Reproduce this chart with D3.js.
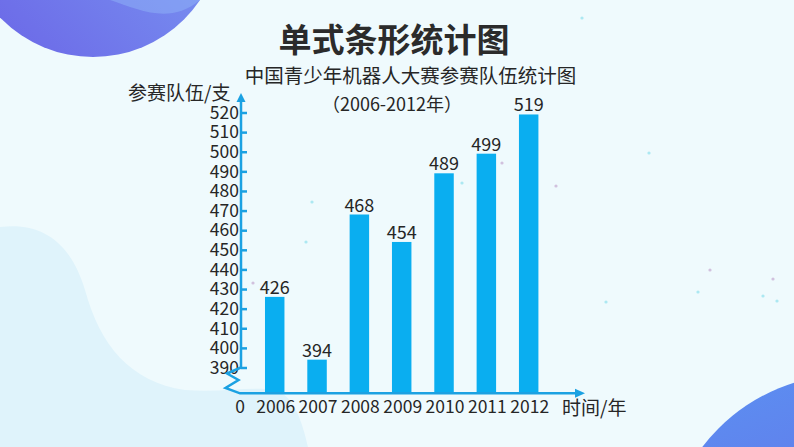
<!DOCTYPE html>
<html><head><meta charset="utf-8">
<script src="https://cdn.jsdelivr.net/npm/d3@7"></script>
<style>
html,body{margin:0;padding:0;background:#effafd;}
svg{display:block;}
text{font-family:"Noto Sans CJK SC","Noto Sans",sans-serif;fill:#262626;}
</style></head>
<body>
<svg id="c" width="794" height="447"></svg>
<script>
const categories = ["2006","2007","2008","2009","2010","2011","2012"];
const values = [426, 394, 468, 454, 489, 499, 519];
const yTicks = [390,400,410,420,430,440,450,460,470,480,490,500,510,520];
const title = "单式条形统计图";
const subtitle = "中国青少年机器人大赛参赛队伍统计图";
const subtitle2 = "（2006-2012年）";
const yLabel = "参赛队伍/支";
const xLabel = "时间/年";

const svg = d3.select("#c");
const W = 794, H = 447;
const defs = svg.append("defs");
const g1 = defs.append("linearGradient").attr("id","gTL").attr("x1","1").attr("y1","0").attr("x2","0").attr("y2","1");
g1.append("stop").attr("offset","0").attr("stop-color","#7fa8f6");
g1.append("stop").attr("offset","1").attr("stop-color","#6a63e6");
const g2 = defs.append("linearGradient").attr("id","gBR").attr("x1","0").attr("y1","0").attr("x2","0.4").attr("y2","1");
g2.append("stop").attr("offset","0").attr("stop-color","#5b92f2");
g2.append("stop").attr("offset","1").attr("stop-color","#6a5fe2");

svg.append("rect").attr("width",W).attr("height",H).attr("fill","#effafd");
// bottom-left light blob
svg.append("path").attr("fill","#dff3fb")
  .attr("d","M0,227 C40,222 70,240 85,290 C100,345 130,382 185,390 C220,393 250,386 275,390 C295,396 303,425 308,447 L0,447 Z");
// top-left blob
svg.append("circle").attr("cx",93).attr("cy",-72).attr("r",129).attr("fill","url(#gTL)");
svg.append("path").attr("fill","#8fb4f8").attr("opacity",0.5)
  .attr("d","M110,0 C140,10 170,25 200,0 Z");
// bottom-right blob
svg.append("circle").attr("cx",850).attr("cy",560).attr("r",186).attr("fill","url(#gBR)");

// decorative dots
const dots = [[312,202,"#9be3ef"],[306,242,"#9be3ef"],[253,283,"#c9b3d6"],[710,270,"#c9b3d6"],[773,279,"#c9b3d6"],[698,292,"#9be3ef"],[763,296,"#9be3ef"],[777,301,"#9be3ef"],[606,302,"#9be3ef"],[649,153,"#9be3ef"],[502,163,"#c9b3d6"],[582,18,"#9be3ef"],[462,183,"#9be3ef"],[556,186,"#c9b3d6"]];
svg.append("g").selectAll("circle").data(dots).join("circle")
  .attr("cx",d=>d[0]).attr("cy",d=>d[1]).attr("r",1.6).attr("fill",d=>d[2]).attr("opacity",0.8);

// scales
const x = d3.scaleBand().domain(categories).range([254.4, 549]).paddingInner(0.54).paddingOuter(0.25);
const y = d3.scaleLinear().domain([390, 520]).range([367.5, 112.5]);
const axisColor = "#1ba1e2";
const barColor = "#0aaef0";
const axisX = 241, baseY = 393.3;

// bars
svg.append("g").selectAll("rect").data(values).join("rect")
  .attr("x",(d,i)=>x(categories[i])).attr("width",x.bandwidth())
  .attr("y",d=>y(d)).attr("height",d=>baseY - y(d)).attr("fill",barColor);

// y axis line
svg.append("line").attr("x1",axisX).attr("x2",axisX).attr("y1",99).attr("y2",y(390))
  .attr("stroke",axisColor).attr("stroke-width",2.5);
svg.append("path").attr("d",`M${axisX},93 L${axisX-4.5},102 L${axisX+4.5},102 Z`).attr("fill",axisColor);
// ticks via d3 axis
const yAxis = d3.axisRight(y).tickValues(yTicks).tickSize(6).tickFormat("");
const ya = svg.append("g").attr("transform",`translate(${axisX},0)`).call(yAxis);
ya.select(".domain").remove();
ya.selectAll(".tick line").attr("stroke",axisColor).attr("stroke-width",2.5);
// tick labels
svg.append("g").selectAll("text").data(yTicks).join("text")
  .attr("x",239).attr("y",d=>y(d)).attr("dy","0.36em").attr("text-anchor","end")
  .attr("font-size",17.5).text(d=>d);

// zigzag break
svg.append("path").attr("fill","none").attr("stroke",axisColor).attr("stroke-width",2.5).attr("stroke-linejoin","miter")
  .attr("d",`M${axisX},${y(390)} L227,373.5 L238.5,380 L225.5,388 L240,${baseY} L578,${baseY}`);
svg.append("path").attr("d",`M585,${baseY} L575,${baseY-4.5} L575,${baseY+4.5} Z`).attr("fill",axisColor);

// value labels
svg.append("g").selectAll("text").data(values).join("text")
  .attr("x",(d,i)=>x(categories[i])+x.bandwidth()/2).attr("y",d=>y(d)-3)
  .attr("text-anchor","middle").attr("font-size",18).text(d=>d);

// x labels
svg.append("text").attr("x",240).attr("y",413).attr("text-anchor","middle").attr("font-size",17.5).text("0");
svg.append("g").selectAll("text").data(categories).join("text")
  .attr("x",d=>x(d)+x.bandwidth()/2+1).attr("y",413).attr("text-anchor","middle").attr("font-size",17.5).text(d=>d);
svg.append("text").attr("x",562).attr("y",408).attr("dy","0.35em").attr("font-size",19).text(xLabel);

// titles
svg.append("text").attr("x",394).attr("y",40).attr("dy","0.35em").attr("text-anchor","middle")
  .attr("font-size",33).attr("font-weight","bold").style("fill","#2b2b2b").text(title);
svg.append("text").attr("x",410.5).attr("y",76.5).attr("dy","0.35em").attr("text-anchor","middle")
  .attr("font-size",19.5).text(subtitle);
svg.append("text").attr("x",392).attr("y",105).attr("dy","0.35em").attr("text-anchor","middle")
  .attr("font-size",18).text(subtitle2);
svg.append("text").attr("x",128).attr("y",93).attr("dy","0.35em").attr("font-size",19).text(yLabel);
</script>
</body></html>
